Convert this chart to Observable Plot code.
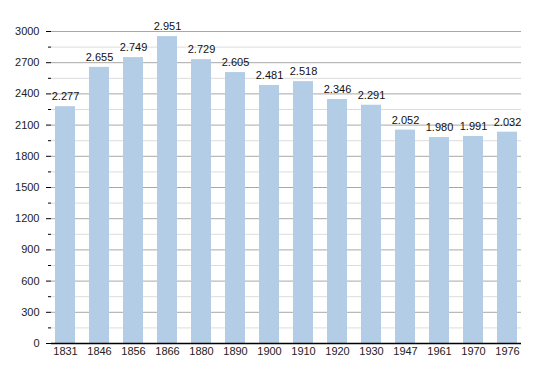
<!DOCTYPE html>
<html>
<head>
<meta charset="utf-8">
<script src="https://cdn.jsdelivr.net/npm/d3@7"></script>
<script src="https://cdn.jsdelivr.net/npm/@observablehq/plot@0.6"></script>
<style>
  html, body { margin: 0; padding: 0; background: #fff; }
  #chart svg { display: block; }
</style>
</head>
<body>
<div id="chart"></div>
<script>
const years = ["1831","1846","1856","1866","1880","1890","1900","1910","1920","1930","1947","1961","1970","1976"];
const population = [2277, 2655, 2749, 2951, 2729, 2605, 2481, 2518, 2346, 2291, 2052, 1980, 1991, 2032];
const majorTicks = [0, 300, 600, 900, 1200, 1500, 1800, 2100, 2400, 2700, 3000];
const minorTicks = [150, 450, 750, 1050, 1350, 1650, 1950, 2250, 2550, 2850];

const data = years.map((y, i) => ({year: y, value: population[i]}));
const fmt = v => String(v).replace(/\B(?=(\d{3})+(?!\d))/g, ".");

const plot = Plot.plot({
  width: 550,
  height: 373,
  marginLeft: 51,
  marginRight: 29,
  marginTop: 31,
  marginBottom: 30,
  style: {fontFamily: "'Liberation Sans', Arial, sans-serif", fontSize: "11px", color: "#222", background: "#fff"},
  x: {domain: years, paddingInner: 0.4, paddingOuter: 0, label: null},
  y: {domain: [0, 3000], label: null},
  marks: [
    Plot.ruleY(minorTicks, {stroke: "#dcdcdc", strokeWidth: 1}),
    Plot.ruleY(majorTicks.filter(d => d > 0), {stroke: "#a8a8a8", strokeWidth: 1}),
    Plot.barY(data, {x: "year", y: "value", fill: "#b3cde6"}),
    Plot.text(data, {x: "year", y: "value", text: d => fmt(d.value), dy: -10, fill: "#111", fontSize: 11}),
    Plot.axisY(majorTicks, {tickSize: 5, tickPadding: 7, stroke: "#000", strokeOpacity: 1, fill: "#222", fontSize: 11, tickFormat: d => String(d), label: null}),
    Plot.axisY(minorTicks, {tickSize: 3, stroke: "#000", strokeOpacity: 1, text: null, label: null}),
    Plot.axisX({tickSize: 0, tickPadding: 4, fill: "#222", fontSize: 11, label: null}),
    Plot.ruleX([0], {frameAnchor: "left", stroke: "#000"}),
    Plot.ruleY([0], {stroke: "#000", strokeWidth: 1.5})
  ]
});
document.getElementById("chart").appendChild(plot);
</script>
</body>
</html>
